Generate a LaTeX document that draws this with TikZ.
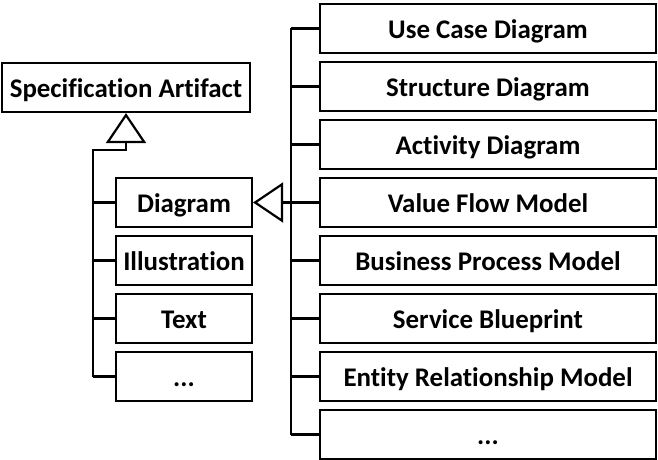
\documentclass[tikz,border=0pt]{standalone}
\usepackage{fontspec}
\setmainfont{Carlito}[Ligatures=NoCommon]
\usetikzlibrary{arrows.meta}
\begin{document}
\begin{tikzpicture}[x=1bp,y=-1bp,
  line width=2.2bp,
  box/.style={draw, rectangle, inner sep=0pt, minimum height=49bp,
    text height=17.4bp+3bp, text depth=0pt,
    font=\fontsize{27}{32}\selectfont\bfseries},
  leftbox/.style={box, minimum width=136bp},
  rightbox/.style={box, minimum width=336bp},
  gen/.style={-{Triangle[open,length=30bp 0,width=40bp 0]}}]
\useasboundingbox (0,0) rectangle (658,460);

% root class
\node[box, minimum width=248bp] (sa) at (126,87.5) {Specification Artifact};

% kinds of specification artifact
\node[leftbox] (dia) at (184,202.5) {Diagram};
\node[leftbox] (ill) at (184,260.5) {Illustration};
\node[leftbox] (txt) at (184,318.5) {Text};
\node[leftbox] (ld)  at (184,376.5) {...};

% kinds of diagram
\node[rightbox] (uc)  at (488,28.5)  {Use Case Diagram};
\node[rightbox] (sd)  at (488,86.5)  {Structure Diagram};
\node[rightbox] (ad)  at (488,144.5) {Activity Diagram};
\node[rightbox] (vf)  at (488,202.5) {Value Flow Model};
\node[rightbox] (bp)  at (488,260.5) {Business Process Model};
\node[rightbox] (sb)  at (488,318.5) {Service Blueprint};
\node[rightbox] (er)  at (488,376.5) {Entity Relationship Model};
\node[rightbox] (rd)  at (488,434.5) {...};

% left generalisation tree
\coordinate (ltop) at (93,150);
\coordinate (lbot) at (93,376.5);
\draw[gen] (lbot) -- (ltop) -| (sa.south);
\foreach \n in {dia,ill,txt,ld} \draw (\n.west) -- (\n.west -| ltop);

% right generalisation tree
\coordinate (rtop) at (291,28.5);
\coordinate (rbot) at (291,434.5);
\draw (rtop) -- (rbot);
\foreach \n in {uc,sd,ad,vf,bp,sb,er,rd} \draw (\n.west) -- (\n.west -| rtop);
\draw[gen] (dia.east -| rtop) -- (dia.east);
\end{tikzpicture}
\end{document}
